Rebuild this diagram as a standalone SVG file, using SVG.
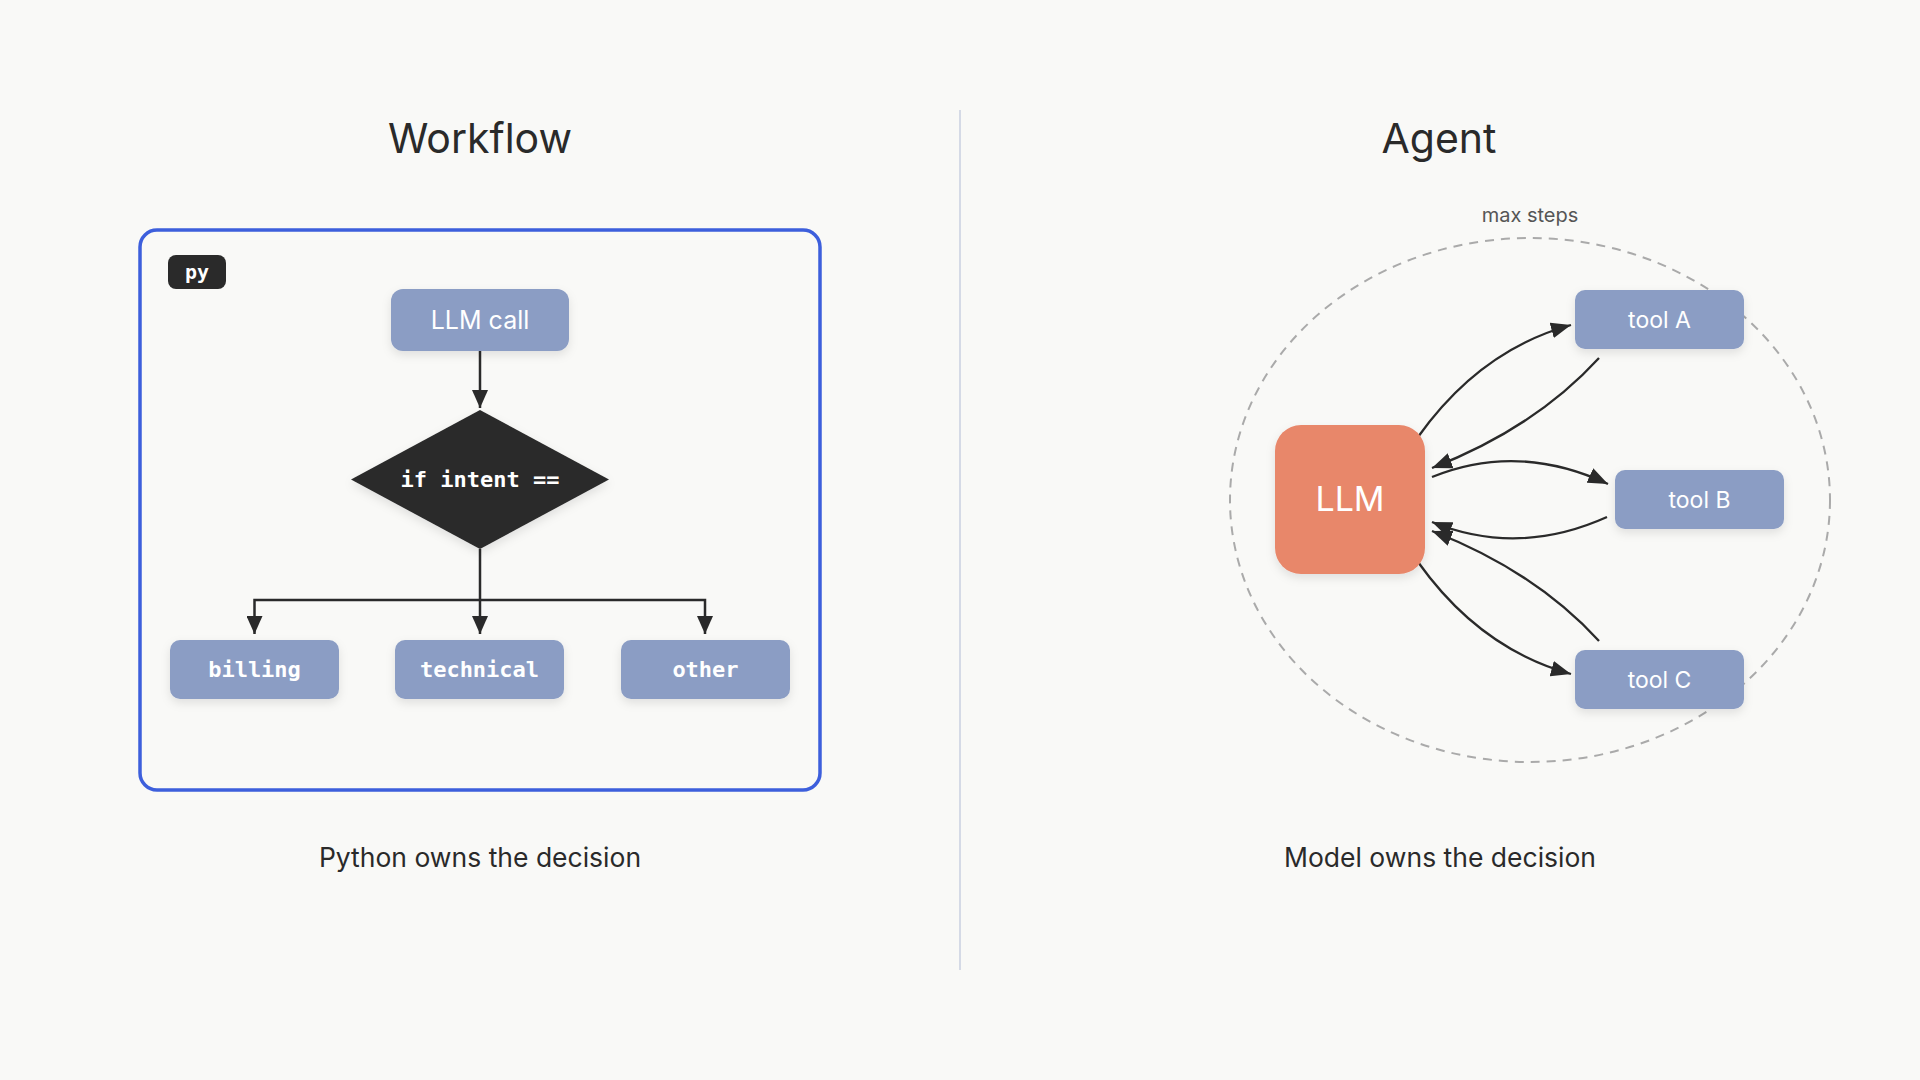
<svg xmlns="http://www.w3.org/2000/svg" width="1920" height="1080" viewBox="0 0 1920 1080">
<defs>
<style>
.title{font-family:Inter,"Liberation Sans",sans-serif;font-size:41px;fill:#2a2a2a;text-anchor:middle}
.caption{font-family:Inter,"Liberation Sans",sans-serif;font-size:26.5px;fill:#2a2a2a;text-anchor:middle}
.node{fill:#8b9dc4}
.lbl{font-family:Inter,"Liberation Sans",sans-serif;fill:#ffffff;text-anchor:middle}
.mono{font-family:"DejaVu Sans Mono","Liberation Mono",monospace;font-weight:bold;fill:#ffffff;text-anchor:middle}
.edge{fill:none;stroke:#2a2a2a;stroke-width:2.5}
.cedge{fill:none;stroke:#2a2a2a;stroke-width:2.3}
</style>
<filter id="sh" x="-20%" y="-20%" width="140%" height="160%">
<feDropShadow dx="0" dy="4" stdDeviation="5" flood-color="#000" flood-opacity="0.10"/>
</filter>
<marker id="ah" viewBox="0 0 18 16" refX="18" refY="8" markerWidth="18" markerHeight="16" markerUnits="userSpaceOnUse" orient="auto">
<path d="M0,0 L18,8 L0,16 Z" fill="#2a2a2a"/>
</marker>
<marker id="ah2" viewBox="0 0 20 16" refX="20" refY="8" markerWidth="20" markerHeight="16" markerUnits="userSpaceOnUse" orient="auto">
<path d="M0,0 L20,8 L0,16 Z" fill="#2a2a2a"/>
</marker>
</defs>
<rect width="1920" height="1080" fill="#f9f9f7"/>

<line x1="960" y1="110" x2="960" y2="970" stroke="#d5dae6" stroke-width="2"/>

<text class="title" x="480" y="153">Workflow</text>
<text class="title" x="1439" y="153">Agent</text>

<g id="workflow-frame">
<rect x="140" y="230" width="680" height="560" rx="17" fill="none" stroke="#3d5fdc" stroke-width="3.5"/>
</g>
<g id="py-badge">
<rect x="168" y="255" width="58" height="34" rx="8" fill="#2a2a2a"/>
<text class="mono" x="197" y="279" style="font-size:20px">py</text>
</g>

<g id="connectors">
<path class="edge" d="M480,351 L480,408" marker-end="url(#ah)"/>
<path class="edge" d="M480,549 L480,634" marker-end="url(#ah)"/>
<path class="edge" d="M480,600 L254.5,600 L254.5,634" marker-end="url(#ah)"/>
<path class="edge" d="M480,600 L705,600 L705,634" marker-end="url(#ah)"/>

<path class="cedge" d="M1418,437 Q1480,350 1571,325" marker-end="url(#ah2)"/>
<path class="cedge" d="M1599,358 Q1535,428 1432,468" marker-end="url(#ah2)"/>
<path class="cedge" d="M1432,477 Q1518,442 1608,484" marker-end="url(#ah2)"/>
<path class="cedge" d="M1607,517 Q1518,557 1432,522" marker-end="url(#ah2)"/>
<path class="cedge" d="M1599,641 Q1535,571 1432,531" marker-end="url(#ah2)"/>
<path class="cedge" d="M1418,562 Q1480,649 1571,674" marker-end="url(#ah2)"/>
</g>

<g id="llm-call">
<rect class="node" x="391" y="289" width="178" height="62" rx="12" filter="url(#sh)"/>
<text class="lbl" x="480" y="329" style="font-size:25px">LLM call</text>
</g>
<g id="decision">
<polygon points="480,410 609,479.5 480,549 351,479.5" fill="#2a2a2a" filter="url(#sh)"/>
<text class="mono" x="480" y="487" style="font-size:22px">if intent ==</text>
</g>
<g id="billing">
<rect class="node" x="170" y="640" width="169" height="59" rx="10" filter="url(#sh)"/>
<text class="mono" x="254.5" y="677" style="font-size:22px">billing</text>
</g>
<g id="technical">
<rect class="node" x="395" y="640" width="169" height="59" rx="10" filter="url(#sh)"/>
<text class="mono" x="479.5" y="677" style="font-size:22px">technical</text>
</g>
<g id="other">
<rect class="node" x="621" y="640" width="169" height="59" rx="10" filter="url(#sh)"/>
<text class="mono" x="705.5" y="677" style="font-size:22px">other</text>
</g>

<text class="caption" x="480" y="867">Python owns the decision</text>

<g id="max-steps">
<ellipse cx="1530" cy="500" rx="300" ry="262" fill="none" stroke="#aaaaaa" stroke-width="2" stroke-dasharray="9 7"/>
<text x="1530" y="222" font-family="Inter,'Liberation Sans',sans-serif" font-size="20" fill="#555555" text-anchor="middle">max steps</text>
</g>

<g id="llm">
<rect x="1275" y="425" width="150" height="149" rx="26" fill="#e8876b" filter="url(#sh)"/>
<text class="lbl" x="1350" y="511" style="font-size:34px">LLM</text>
</g>
<g id="tool-a">
<rect class="node" x="1575" y="290" width="169" height="59" rx="10" filter="url(#sh)"/>
<text class="lbl" x="1659.5" y="328" style="font-size:23px">tool A</text>
</g>
<g id="tool-b">
<rect class="node" x="1615" y="470" width="169" height="59" rx="10" filter="url(#sh)"/>
<text class="lbl" x="1699.5" y="508" style="font-size:23px">tool B</text>
</g>
<g id="tool-c">
<rect class="node" x="1575" y="650" width="169" height="59" rx="10" filter="url(#sh)"/>
<text class="lbl" x="1659.5" y="688" style="font-size:23px">tool C</text>
</g>

<text class="caption" x="1440" y="867">Model owns the decision</text>
</svg>
